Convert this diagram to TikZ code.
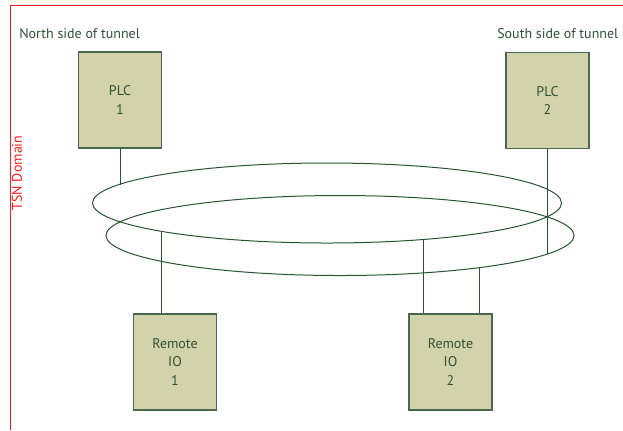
\documentclass[tikz,border=0pt]{standalone}
\usepackage{fontspec}
\setmainfont{PT Sans}
\usepackage{tikz}
\usetikzlibrary{calc}

\definecolor{boxfill}{RGB}{211,211,171}
\definecolor{boxline}{RGB}{74,104,78}
\definecolor{inktext}{RGB}{48,80,54}
\definecolor{ringline}{RGB}{40,84,52}
\definecolor{domainred}{RGB}{245,30,30}

\tikzset{
  device/.style={draw=boxline, fill=boxfill, line width=0.9pt, minimum width=62.25pt, minimum height=72pt, inner sep=0pt, align=center, text=inktext, font=\fontsize{10.5}{14}\selectfont},
  ring/.style={draw=ringline, line width=0.75pt},
  link/.style={draw=ringline, line width=0.75pt},
  sidelabel/.style={anchor=west, inner sep=0.75pt, text=inktext, font=\fontsize{10.5}{12}\selectfont}
}

\begin{document}
\begin{tikzpicture}[x=0.75pt,y=0.75pt,yscale=-1,xscale=1]
\useasboundingbox (0,0) rectangle (623,430);

%Domain frame
\draw [domainred, line width=0.75pt] (623,5) -- (10,5) -- (10,430);
% Text Node
\node (domain) [rotate=90, inner sep=0.75pt, text=domainred, font=\fontsize{10.5}{12}\selectfont] at (17,173) {TSN Domain};

% Text Node
\node (north) [sidelabel] at (18,34) {North side of tunnel};
% Text Node
\node (south) [sidelabel] at (496,34) {South side of tunnel};

%Rings
\draw [ring] (327,203) ellipse [x radius=234.5, y radius=40];
\draw [ring] (340,235.5) ellipse [x radius=234, y radius=40];

%Devices
\node (plc1) [device] at (120,100) {PLC\\1};
\node (plc2) [device] at (547.5,100.5) {PLC\\2};
\node (rio1) [device] at (175,362) {Remote\\IO\\1};
\node (rio2) [device] at (450.5,362) {Remote\\IO\\2};

%Taps on the rings
\coordinate (plc1tap) at (120,184.5);
\coordinate (plc2tap) at (547,254);
\coordinate (rio1tap) at (161,231.5);
\coordinate (rio2tapa) at (423,240);
\coordinate (rio2tapb) at (479,268);

%Straight Lines
\draw [link] (plc1.south) -- (plc1tap);
\draw [link] (plc2tap |- plc2.south) -- (plc2tap);
\draw [link] (rio1tap) -- (rio1tap |- rio1.north);
\draw [link] (rio2tapa) -- (rio2tapa |- rio2.north);
\draw [link] (rio2tapb) -- (rio2tapb |- rio2.north);

\end{tikzpicture}
\end{document}
